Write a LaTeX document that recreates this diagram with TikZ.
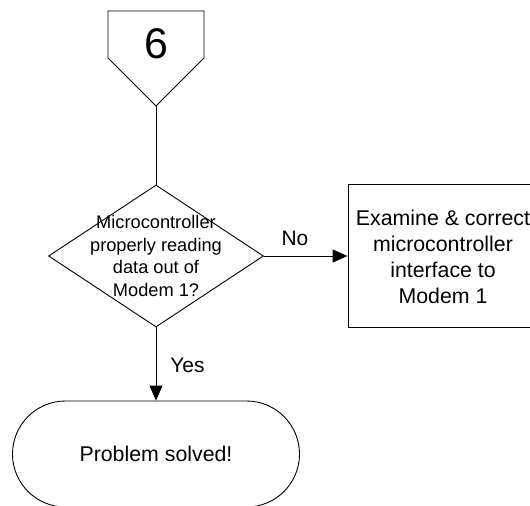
\documentclass[tikz,border=0pt]{standalone}
\usepackage{fontspec}
\setmainfont{Liberation Sans}
\usetikzlibrary{shapes.geometric,shapes.misc,arrows.meta}
\tikzset{
  flowline/.style={draw=black, line width=0.9bp, line join=miter},
  arrowline/.style={flowline, -{Triangle[length=15bp,width=13bp]}},
  decision/.style={diamond, flowline, minimum width=215bp, minimum height=142bp, inner sep=0pt},
  process/.style={rectangle, flowline, minimum width=190bp, minimum height=143bp, inner sep=0pt},
  terminal/.style={rounded rectangle, flowline, minimum width=287bp, minimum height=106bp, inner sep=0pt},
  smalltext/.style={align=center, font=\fontsize{18.3}{22.6}\selectfont},
  bodytext/.style={align=center, font=\fontsize{21.4}{26}\selectfont},
  edgelabel/.style={anchor=base, font=\fontsize{21}{25}\selectfont},
}
\begin{document}
\begin{tikzpicture}[x=1bp,y=-1bp]
\useasboundingbox (0,0) rectangle (530,506);
\clip (0,0) rectangle (530,506);

% off-page connector
\draw[flowline] (108,11) -- (204,11) -- (204,58) -- (156,106) -- (108,58) -- cycle;
\coordinate (pgtip) at (156,106);
\node[anchor=base, font=\fontsize{43}{50}\selectfont] (pgnum) at (156,59) {6};

% decision
\node[decision] (dec) at (156,256) {};
\node[smalltext] (dectext) at (156,256) {Microcontroller\\properly reading\\data out of\\Modem 1?};

% process box (runs past the right edge)
\node[process] (fix) at (443,255.5) {};
\node[bodytext] (fixtext) at (443,257) {Examine \& correct\\microcontroller\\interface to\\Modem 1};

% terminator
\node[terminal] (done) at (156,454) {};
\node[bodytext] (donetext) at (156,454) {Problem solved!};

% connectors
\draw[flowline] (pgtip) -- (dec.north);
\draw[arrowline] (dec.east) -- (dec.east -| fix.west);
\draw[arrowline] (dec.south) -- (done.north);

% branch labels
\node[edgelabel] (nolabel) at (295,245) {No};
\node[edgelabel] (yeslabel) at (187.5,372) {Yes};
\end{tikzpicture}
\end{document}
